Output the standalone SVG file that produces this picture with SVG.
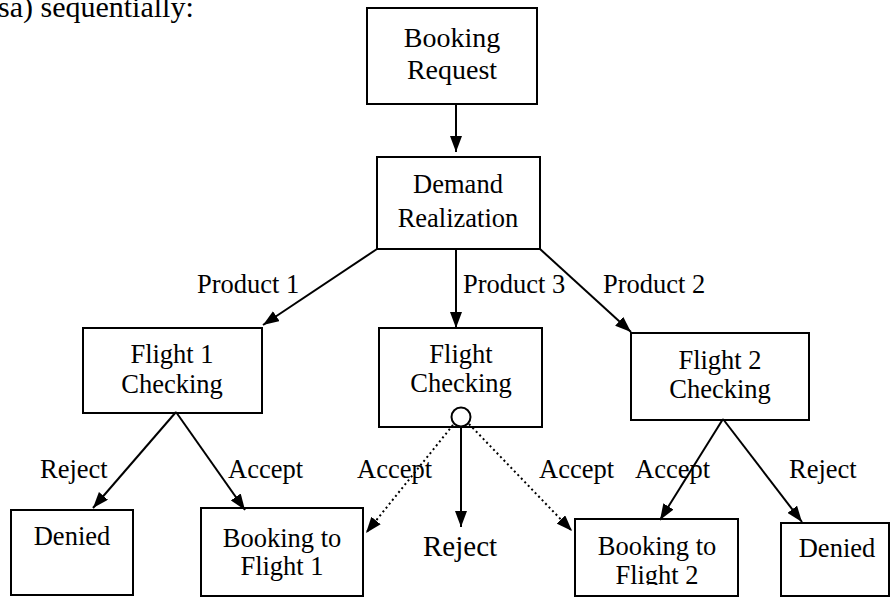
<svg xmlns="http://www.w3.org/2000/svg" width="892" height="597" viewBox="0 0 892 597">
<style>
.box{fill:#fff;stroke:#000;stroke-width:2}
.t{font-family:"Liberation Serif","Times New Roman",serif;font-size:26.5px;fill:#000}
.c{text-anchor:middle}
.e{stroke:#000;stroke-width:2;fill:none}
.d{stroke-dasharray:2 3}
</style>
<defs>
<marker id="ah" viewBox="0 0 10 10" refX="10" refY="5" markerWidth="8" markerHeight="8" markerUnits="userSpaceOnUse" orient="auto">
<path d="M0,0 L10,5 L0,10 z" fill="#000"/>
</marker>
<marker id="a" viewBox="0 0 16 12" refX="16" refY="6" markerWidth="16" markerHeight="12" markerUnits="userSpaceOnUse" orient="auto">
<path d="M0,0 L16,6 L0,12 z" fill="#000"/>
</marker>
<clipPath id="clip2"><rect x="575" y="519" width="163" height="66"/></clipPath>
</defs>
<rect width="892" height="597" fill="#fff"/>
<text class="t" x="-2" y="17" style="font-size:30px">sa) sequentially:</text>
<g id="n-request"><rect class="box" x="367" y="8" width="170" height="96"/><text class="t c" x="452" y="47" style="font-size:28px">Booking</text><text class="t c" x="452" y="79" style="font-size:28px">Request</text></g>
<g id="n-demand"><rect class="box" x="377" y="157" width="163" height="92"/><text class="t c" x="458" y="193">Demand</text><text class="t c" x="458" y="227">Realization</text></g>
<g id="n-f1"><rect class="box" x="83" y="328" width="179" height="85"/><text class="t c" x="172" y="363">Flight 1</text><text class="t c" x="172" y="393">Checking</text></g>
<g id="n-f"><rect class="box" x="379" y="328" width="163" height="99"/><text class="t c" x="461" y="363">Flight</text><text class="t c" x="461" y="392">Checking</text><circle cx="461" cy="417" r="9.5" fill="#fff" stroke="#000" stroke-width="2"/></g>
<g id="n-f2"><rect class="box" x="631" y="333" width="178" height="87"/><text class="t c" x="720" y="369">Flight 2</text><text class="t c" x="720" y="398">Checking</text></g>
<g id="n-denied1"><rect class="box" x="11" y="510" width="122" height="85"/><text class="t c" x="72" y="545">Denied</text></g>
<g id="n-book1"><rect class="box" x="201" y="508" width="162" height="88"/><text class="t c" x="282" y="547">Booking to</text><text class="t c" x="282" y="575">Flight 1</text></g>
<g id="n-reject"><text class="t" x="423" y="556" style="font-size:29px">Reject</text></g>
<g id="n-book2"><rect class="box" x="575" y="519" width="163" height="77"/><text class="t c" x="657" y="555">Booking to</text><text class="t c" x="657" y="584" clip-path="url(#clip2)">Flight 2</text></g>
<g id="n-denied2"><rect class="box" x="781" y="523" width="108" height="73"/><text class="t c" x="837" y="557">Denied</text></g>
<g id="edges">
<line class="e" x1="456" y1="104" x2="456" y2="152" marker-end="url(#a)"/>
<line class="e" x1="377" y1="249" x2="263" y2="325" marker-end="url(#a)"/>
<line class="e" x1="456" y1="249" x2="456" y2="328" marker-end="url(#a)"/>
<line class="e" x1="540" y1="249" x2="631" y2="332" marker-end="url(#a)"/>
<line class="e" x1="176" y1="412" x2="93" y2="508" marker-end="url(#a)"/>
<line class="e" x1="176" y1="412" x2="245" y2="510" marker-end="url(#a)"/>
<line class="e" x1="461" y1="427" x2="461" y2="527" marker-end="url(#a)"/>
<line class="e d" x1="453" y1="425" x2="366" y2="533" marker-end="url(#a)"/>
<line class="e d" x1="469" y1="424" x2="572" y2="531" marker-end="url(#a)"/>
<line class="e" x1="723" y1="419" x2="660" y2="520" marker-end="url(#a)"/>
<line class="e" x1="723" y1="419" x2="802" y2="522" marker-end="url(#a)"/>
<text class="t" x="197" y="293">Product 1</text>
<text class="t" x="463" y="293">Product 3</text>
<text class="t" x="603" y="293">Product 2</text>
<text class="t" x="40" y="478">Reject</text>
<text class="t" x="228" y="478">Accept</text>
<text class="t" x="357" y="478">Accept</text>
<text class="t" x="539" y="478">Accept</text>
<text class="t" x="635" y="478">Accept</text>
<text class="t" x="789" y="478">Reject</text>
</g>
</svg>
